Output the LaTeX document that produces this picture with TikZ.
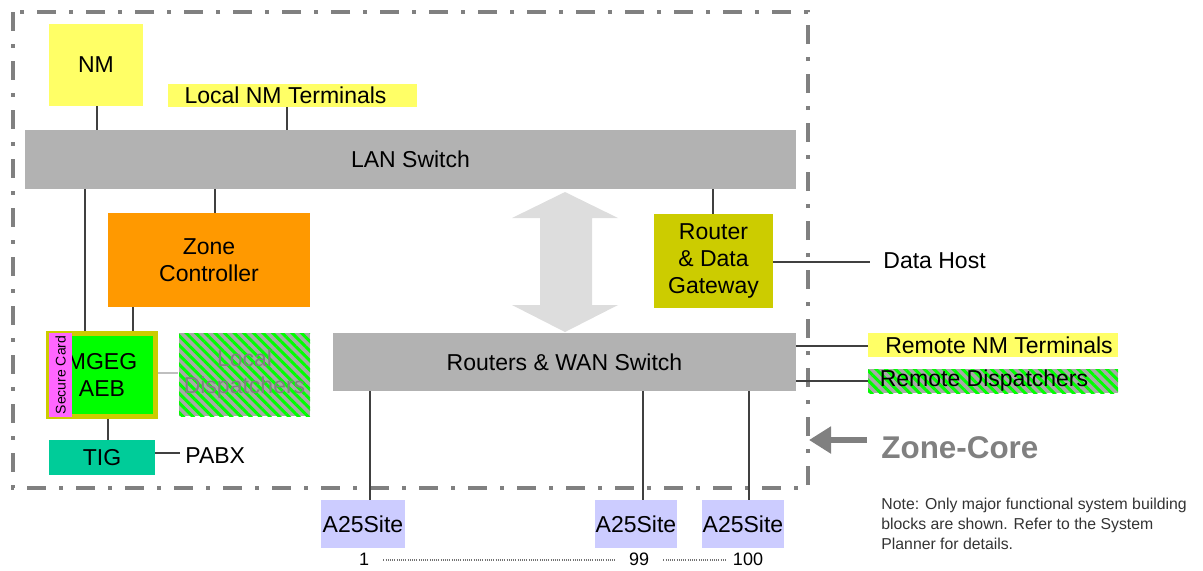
\documentclass[tikz,border=0pt]{standalone}
\usepackage{fontspec}
\setmainfont{Liberation Sans}
\usetikzlibrary{calc,patterns.meta,arrows.meta}
\definecolor{nmyellow}{HTML}{FFFF66}
\definecolor{bargray}{HTML}{B2B2B2}
\definecolor{zcorange}{HTML}{FF9900}
\definecolor{olive}{HTML}{CCCC00}
\definecolor{brightgreen}{HTML}{00FF00}
\definecolor{cardpink}{HTML}{FF66FF}
\definecolor{tigteal}{HTML}{00CC99}
\definecolor{sitelav}{HTML}{CCCCFF}
\definecolor{arrowgray}{HTML}{DDDDDD}
\definecolor{framegray}{HTML}{808080}
\definecolor{hatchgray}{HTML}{A8A8A8}
\definecolor{wiregray}{HTML}{404040}
% a block spanning two opposite corners, text centred
\newcommand\blk[5]{\path let \p1=#2, \p2=#3 in
  node[blk,#1, minimum width={abs(\x2-\x1)}, minimum height={abs(\y2-\y1)}]
  (#4) at ($(\p1)!0.5!(\p2)$) {#5};}
\tikzset{
  blk/.style={inner sep=0pt, align=center, font=\fontsize{11.5}{13.5}\selectfont},
  hatched/.style={preaction={fill=hatchgray},
    pattern={Lines[angle=-45,distance=3.4pt,line width=1.5pt]}, pattern color=brightgreen},
  wire/.style={draw=wiregray, line width=0.6pt},
  lbl/.style={inner sep=0pt, font=\fontsize{11.5}{13.5}\selectfont},
  frame/.style={draw=framegray, line width=2pt,
    dash pattern=on 9.5pt off 6.5pt on 2pt off 6.5pt},
  fine dots/.style={draw=black!55, line width=0.6pt, dash pattern=on 0.5pt off 0.6pt},
}
\begin{document}
\begin{tikzpicture}[x=0.5pt,y=-0.5pt]
\useasboundingbox (0,0) rectangle (1203,570);

% zone-core frame
\draw[frame] (13,12) rectangle (808,488);

% boxes
\blk{fill=nmyellow}{(49,24)}{(143,106)}{nm}{NM}
\blk{fill=nmyellow}{(168,84)}{(417,107)}{lnm}{Local NM Terminals\hspace*{7pt}}
\blk{fill=bargray}{(25,130)}{(796,189)}{lan}{LAN Switch}
\blk{fill=zcorange}{(108,213)}{(310,307)}{zc}{Zone\\Controller}
\blk{fill=olive}{(654,214)}{(773,308)}{rdg}{Router\\\& Data\\Gateway}
\blk{fill=bargray}{(333,333)}{(796,391)}{wan}{Routers \& WAN Switch}

% MGEG / AEB with its secure card
\blk{fill=olive}{(46,331)}{(158,419)}{mgo}{}
\blk{fill=brightgreen}{(70,336)}{(153,414)}{mgi}{}
\node[lbl, align=center] (mgt) at (102,375) {MGEG\\AEB};
\blk{fill=cardpink}{(49,333)}{(72,417)}{card}{}
\node[inner sep=0pt, rotate=90, font=\fontsize{7}{8}\selectfont] (cardt) at (card.center) {Secure Card};

\blk{hatched, text=framegray}{(179,333)}{(310,416)}{ld}{Local\\Dispatchers}
\blk{fill=tigteal}{(49,440)}{(155,475)}{tig}{TIG}

% remote terminals and dispatchers
\blk{fill=nmyellow}{(868,333)}{(1118,357)}{rnm}{\hspace*{6pt}Remote NM Terminals}
\blk{hatched}{(868,369)}{(1118,393)}{rd}{Remote Dispatchers\hspace*{9pt}}

% A25 sites
\blk{fill=sitelav}{(321,500)}{(405,548)}{s1}{A25Site}
\blk{fill=sitelav}{(595,500)}{(677,548)}{s99}{A25Site}
\blk{fill=sitelav}{(702,500)}{(784,548)}{s100}{A25Site}

% plain labels
\node[lbl, anchor=west] (pabx) at (185,456) {PABX};
\node[lbl, anchor=west] (dh) at (883,261) {Data Host};
\node[inner sep=0pt, anchor=west, text=framegray, font=\fontsize{15.7}{17}\selectfont\bfseries] (zcore) at (881,448) {Zone-Core};
\node[inner sep=0pt, anchor=north west, align=left, text=black!80, font=\fontsize{7.9}{10}\selectfont] (note) at (881,498)
  {Note: Only major functional system building\\blocks are shown. Refer to the System\\Planner for details.};
\node[inner sep=0pt, font=\fontsize{9}{10}\selectfont] (n1) at (364,559) {1};
\node[inner sep=0pt, font=\fontsize{9}{10}\selectfont] (n99) at (639,559) {99};
\node[inner sep=0pt, font=\fontsize{9}{10}\selectfont] (n100) at (748,559) {100};

% wiring
\draw[wire] (97,0 |- nm.south) -- (97,0 |- lan.north);
\draw[wire] (287,0 |- lnm.south) -- (287,0 |- lan.north);
\draw[wire] (85,0 |- lan.south) -- (85,0 |- mgo.north);
\draw[wire] (215,0 |- lan.south) -- (215,0 |- zc.north);
\draw[wire] (133,0 |- zc.south) -- (133,0 |- mgo.north);
\draw[draw=black!25, line width=0.6pt] (mgo.east |- 0,373) -- (ld.west |- 0,373);
\draw[wire] (108,0 |- mgo.south) -- (108,0 |- tig.north);
\draw[wire] (tig.east |- 0,453) -- (180,453) coordinate (pabxend);
\draw[wire] (713,0 |- lan.south) -- (713,0 |- rdg.north);
\draw[wire] (rdg.east |- 0,262) -- (870,262) coordinate (dhend);
\draw[wire] (wan.east |- 0,346) -- (rnm.west |- 0,346);
\draw[wire] (wan.east |- 0,381) -- (rd.west |- 0,381);
\draw[wire] (370,0 |- wan.south) -- (370,0 |- s1.north);
\draw[wire] (643,0 |- wan.south) -- (643,0 |- s99.north);
\draw[wire] (749,0 |- wan.south) -- (749,0 |- s100.north);

% numbering of the sites
\draw[fine dots] ([xshift=7pt]n1.east |- 0,560) -- ([xshift=-7pt]n99.west |- 0,560);
\draw[fine dots] ([xshift=7pt]n99.east |- 0,560) -- ([xshift=-3pt]n100.west |- 0,560);

% LAN <-> WAN double arrow
\fill[arrowgray] (565,192) -- (618,218) -- (592,218) -- (592,305) -- (618,305)
  -- (565,332) -- (512,305) -- (540,305) -- (540,218) -- (512,218) -- cycle;

% zone-core pointer
\coordinate (ztip) at (809,440);
\draw[framegray, line width=2.6pt, -{Triangle[length=11pt,width=13pt]}]
  ([xshift=-7pt]zcore.west |- 0,440) -- (ztip);
\end{tikzpicture}
\end{document}
